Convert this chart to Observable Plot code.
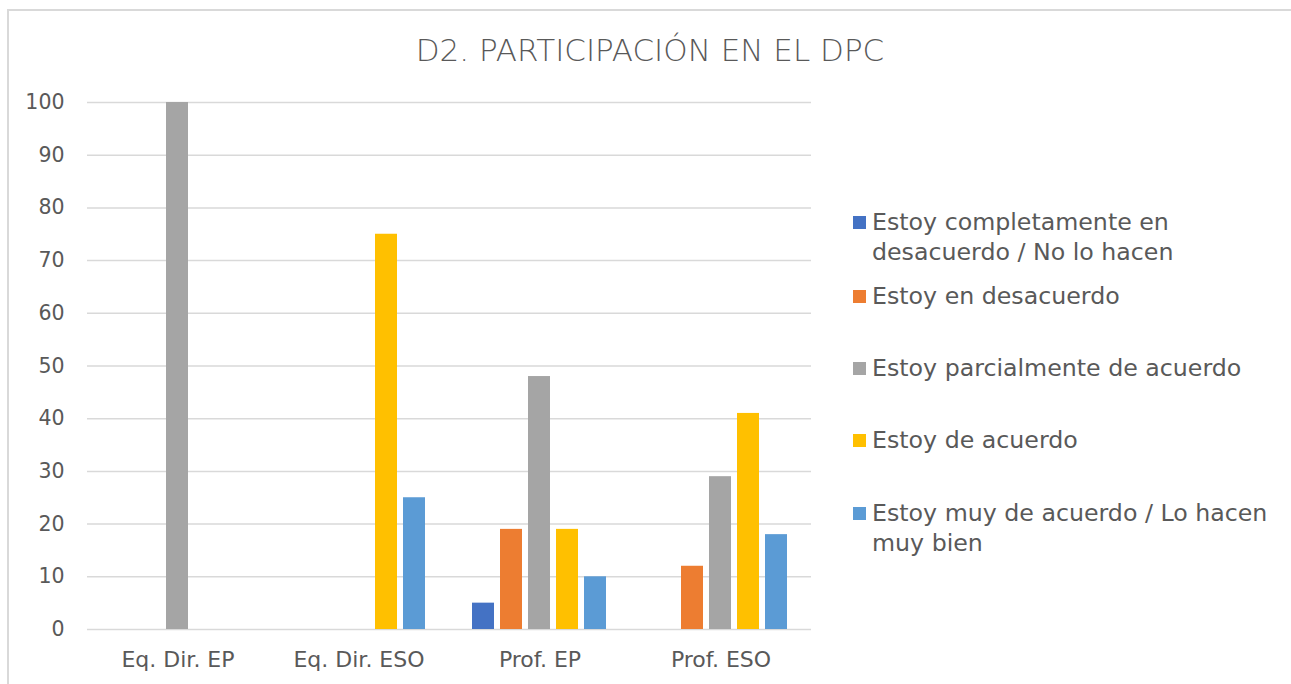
<!DOCTYPE html>
<html>
<head>
<meta charset="utf-8">
<script src="https://cdn.jsdelivr.net/npm/d3@7"></script>
<script src="https://cdn.jsdelivr.net/npm/@observablehq/plot@0.6"></script>
<style>
  html, body { margin: 0; padding: 0; background: #fff; }
  body { width: 1291px; height: 684px; position: relative; overflow: hidden; font-family: "DejaVu Sans", sans-serif; color: #595959; }
  #frame { position: absolute; left: 7px; top: 9px; width: 1290px; height: 690px; border: 2px solid #d9d9d9; box-sizing: border-box; }
  #title { position: absolute; left: 0; top: 30px; width: 1300px; text-align: center; font-size: 31px; font-weight: 300; line-height: 40px; }
  #chart { position: absolute; left: 0; top: 80px; }
  #legend { position: absolute; left: 853px; top: 0; }
  .item { position: absolute; left: 0; width: 430px; font-size: 23.7px; line-height: 30px; white-space: nowrap; }
  .item .sw { position: absolute; left: 0; top: 9px; width: 13px; height: 13px; }
  .item .tx { position: absolute; left: 19px; top: 0; }
</style>
</head>
<body>
<div id="frame"></div>
<div id="title">D2. PARTICIPACIÓN EN EL DPC</div>
<div id="chart"></div>
<div id="legend"></div>
<script>
const categories = ["Eq. Dir. EP", "Eq. Dir. ESO", "Prof. EP", "Prof. ESO"];
const series = [
  "Estoy completamente en desacuerdo / No lo hacen",
  "Estoy en desacuerdo",
  "Estoy parcialmente de acuerdo",
  "Estoy de acuerdo",
  "Estoy muy de acuerdo / Lo hacen muy bien"
];
const legendLines = [
  ["Estoy completamente en", "desacuerdo / No lo hacen"],
  ["Estoy en desacuerdo"],
  ["Estoy parcialmente de acuerdo"],
  ["Estoy de acuerdo"],
  ["Estoy muy de acuerdo / Lo hacen", "muy bien"]
];
const colors = ["#4472C4", "#ED7D31", "#A5A5A5", "#FFC000", "#5B9BD5"];
// values per series, in category order
const completamenteDesacuerdo = [0, 0, 5, 0];
const desacuerdo = [0, 0, 19, 12];
const parcialmente = [100, 0, 48, 29];
const deAcuerdo = [0, 75, 19, 41];
const muyDeAcuerdo = [0, 25, 10, 18];
const yTicks = [0, 10, 20, 30, 40, 50, 60, 70, 80, 90, 100];

const valueArrays = [completamenteDesacuerdo, desacuerdo, parcialmente, deAcuerdo, muyDeAcuerdo];
const data = [];
categories.forEach((c, ci) => {
  series.forEach((s, si) => {
    data.push({category: c, series: s, value: valueArrays[si][ci]});
  });
});

const chart = Plot.plot({
  width: 840,
  height: 600,
  marginTop: 22,
  marginBottom: 51,
  marginLeft: 87,
  marginRight: 29,
  style: {fontFamily: "DejaVu Sans, sans-serif", fontSize: "20px", color: "#595959", background: "transparent"},
  fx: {domain: categories, padding: 0, label: null, axis: null},
  x: {domain: series, paddingInner: 0.214, paddingOuter: 0.78, axis: null},
  y: {domain: [0, 100], label: null, axis: null},
  color: {domain: series, range: colors},
  marks: [
    Plot.ruleY(yTicks, {stroke: "#d9d9d9", strokeWidth: 1.5}),
    Plot.axisY(yTicks, {tickSize: 0, tickPadding: 23, label: null, fill: "#595959", fontSize: 20.5}),
    Plot.axisFx({anchor: "bottom", tickSize: 0, tickPadding: 22, label: null, fill: "#595959", fontSize: 22}),
    Plot.barY(data.filter(d => d.value > 0), {fx: "category", x: "series", y: "value", fill: "series", inset: 0})
  ]
});
document.getElementById("chart").appendChild(chart);

const legendTops = [207, 281, 353, 425, 498];
const legend = document.getElementById("legend");
legendLines.forEach((lines, i) => {
  const item = document.createElement("div");
  item.className = "item";
  item.style.top = legendTops[i] + "px";
  const sw = document.createElement("div");
  sw.className = "sw";
  sw.style.background = colors[i];
  const tx = document.createElement("div");
  tx.className = "tx";
  tx.innerHTML = lines.join("<br>");
  item.appendChild(sw);
  item.appendChild(tx);
  legend.appendChild(item);
});
</script>
</body>
</html>
